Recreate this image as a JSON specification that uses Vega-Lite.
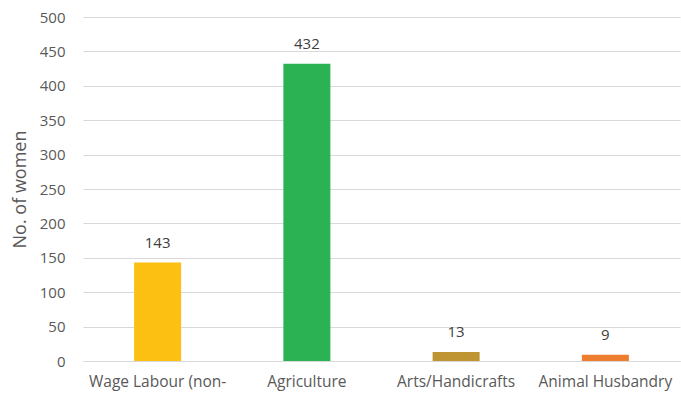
{
  "$schema": "https://vega.github.io/schema/vega-lite/v6.json",
  "width": 597,
  "height": 344,
  "autosize": {"type": "none"},
  "padding": {"left": 83, "top": 17, "right": 1, "bottom": 35},
  "background": "white",
  "config": {
    "view": {"stroke": null},
    "font": "Open Sans",
    "axis": {"labelColor": "#595959", "titleColor": "#595959", "labelFont": "Open Sans", "titleFont": "Open Sans"}
  },
  "data": {
    "values": [
      {"category": "Wage Labour (non-", "value": 143, "color": "#FCC013"},
      {"category": "Agriculture", "value": 432, "color": "#2BB253"},
      {"category": "Arts/Handicrafts", "value": 13, "color": "#BF9432"},
      {"category": "Animal Husbandry", "value": 9, "color": "#EE7D30"}
    ]
  },
  "encoding": {
    "x": {
      "field": "category", "type": "nominal", "sort": null,
      "scale": {"paddingInner": 0.685, "paddingOuter": 0.3425},
      "axis": {"title": null, "labelAngle": 0, "labelFontSize": 15.5, "labelPadding": 13, "ticks": false, "domainColor": "#D9D9D9", "domainWidth": 1, "labelLimit": 200}
    },
    "y": {
      "field": "value", "type": "quantitative",
      "scale": {"domain": [0, 500], "nice": false},
      "axis": {"title": "No. of women", "titleFontSize": 18, "titleFontWeight": "normal", "titlePadding": 10, "values": [0,50,100,150,200,250,300,350,400,450,500], "labelFontSize": 15, "labelPadding": 18, "ticks": false, "domain": false, "gridColor": "#D9D9D9", "gridWidth": 1}
    }
  },
  "layer": [
    {"mark": {"type": "bar"}, "encoding": {"color": {"field": "color", "type": "nominal", "scale": null}}},
    {"mark": {"type": "text", "dy": -20, "fontSize": 15, "color": "#404040", "baseline": "middle"}, "encoding": {"text": {"field": "value", "type": "quantitative"}}}
  ]
}
